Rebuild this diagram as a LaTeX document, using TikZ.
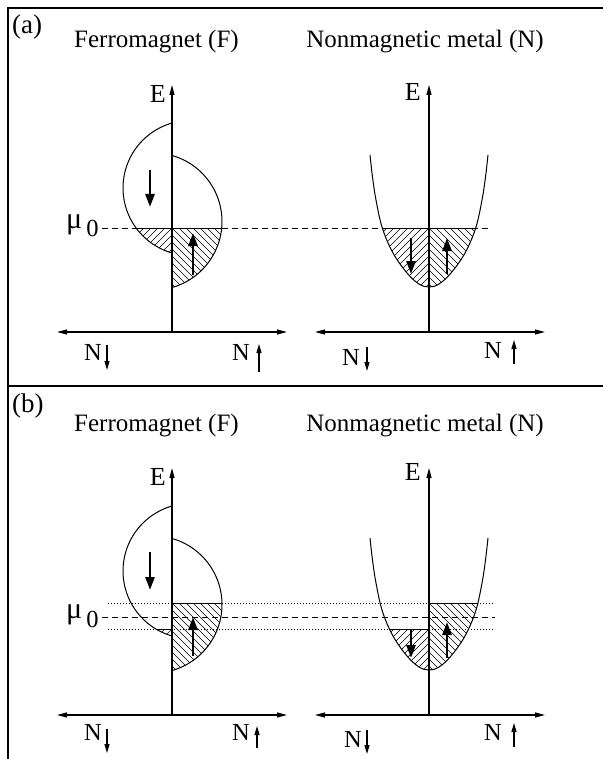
\documentclass[tikz,border=0pt]{standalone}
\usepackage{fontspec}
\setmainfont{Liberation Serif}
\usetikzlibrary{arrows.meta}
\begin{document}
\begin{tikzpicture}[x=1pt,y=-1pt,
  frame/.style={line width=1.4pt},
  axis/.style={line width=1.2pt},
  axisarrow/.style={axis,-{Triangle[length=10pt,width=5pt]}},
  axisboth/.style={axis,{Triangle[length=10pt,width=5pt]}-{Triangle[length=10pt,width=5pt]}},
  band/.style={line width=1pt},
  hatchline/.style={line width=0.6pt},
  fermi/.style={line width=1pt,dash pattern=on 6pt off 4pt},
  level/.style={line width=0.9pt,dash pattern=on 1pt off 2pt},
  spinarrow/.style={line width=2.6pt,-{Triangle[length=13pt,width=9pt]}},
  labelarrow/.style={line width=1.2pt,-{Triangle[length=9pt,width=5pt]}},
  title/.style={font=\fontsize{25}{30}\selectfont,inner sep=0pt},
  panel/.style={font=\fontsize{27}{32}\selectfont,inner sep=0pt},
  lab/.style={font=\fontsize{24.5}{28}\selectfont,inner sep=0pt},
  elab/.style={font=\fontsize{26}{30}\selectfont,inner sep=0pt},
]
\useasboundingbox (0,0) rectangle (603,759);
\def\parab{(370,155) (372.5,177) (376,200) (382.3,228) (393,253) (407,273) (419,284) (429,287) (439,284) (451,273) (465,253) (475.7,228) (482,200) (485.5,177) (488,155)}
\newcommand{\muzero}{{\fontsize{30}{32}\selectfont μ}\hspace{4pt}\raisebox{-8.5pt}{0}}
% frame
\coordinate (fTL) at (8,8); \coordinate (fTR) at (603,8); \coordinate (fBL) at (8,759);
\coordinate (dL) at (8,386); \coordinate (dR) at (603,386);
\draw[frame] (fTR) -- (fTL) -- (fBL);
\draw[frame] (dL) -- (dR);

% ================= panel (a) =================
\node[panel,anchor=base west] (la) at (12,34) {(a)};
\node[title,anchor=base] (tFa) at (156.5,47.5) {Ferromagnet (F)};
\node[title,anchor=base] (tNa) at (425,47.5) {Nonmagnetic metal (N)};
\node[elab,anchor=base east] (EFa) at (166,103) {E};
\node[elab,anchor=base east] (ENa) at (421,101) {E};
\node[lab,anchor=base west] (mua) at (66,228.5) {\muzero};

% Fermi level
\coordinate (muLa) at (102,228); \coordinate (muRa) at (492,228);
\draw[fermi] (muLa) -- (muRa);

% F hatching
\begin{scope}
  \clip (100,228) rectangle (172,300);
  \clip (190.6,188) circle [radius=67.6];
  \foreach \k in {-22,...,22} \draw[hatchline] ({72+7*\k},328) -- ({272+7*\k},128);
\end{scope}
\begin{scope}
  \clip (172,228) rectangle (250,300);
  \clip (153.4,221.5) circle [radius=68.6];
  \foreach \k in {-22,...,22} \draw[hatchline] ({72+7*\k},128) -- ({272+7*\k},328);
\end{scope}
\begin{scope}\clip (190.6,188) circle [radius=67.6]; \draw[band] (100,228) -- (172,228);\end{scope}
\begin{scope}\clip (153.4,221.5) circle [radius=68.6]; \draw[band] (172,228) -- (260,228);\end{scope}
\draw[band] plot[domain=105.97:254.03,samples=60,variable=\t] ({190.6+67.6*cos(\t)},{188+67.6*sin(\t)});
\draw[band] plot[domain=-74.3:74.3,samples=60,variable=\t] ({153.4+68.6*cos(\t)},{221.5+68.6*sin(\t)});

% N hatching
\begin{scope}
  \clip (330,228) rectangle (429,300);
  \clip plot[smooth,tension=0.6] coordinates {\parab} -- cycle;
  \foreach \k in {-22,...,22} \draw[hatchline] ({329+7*\k},328) -- ({529+7*\k},128);
\end{scope}
\begin{scope}
  \clip (429,228) rectangle (530,300);
  \clip plot[smooth,tension=0.6] coordinates {\parab} -- cycle;
  \foreach \k in {-22,...,22} \draw[hatchline] ({329+7*\k},128) -- ({529+7*\k},328);
\end{scope}
\begin{scope}
  \clip plot[smooth,tension=0.6] coordinates {\parab} -- cycle;
  \draw[band] (330,228) -- (530,228);
\end{scope}
\draw[band] plot[smooth,tension=0.6] coordinates {\parab};

% axes
\coordinate (oFa) at (172,332); \coordinate (topFa) at (172,85);
\coordinate (lFa) at (57,332); \coordinate (rFa) at (287,332);
\coordinate (oNa) at (429,332); \coordinate (topNa) at (429,85);
\coordinate (lNa) at (315,332); \coordinate (rNa) at (545,332);
\draw[axisarrow] (oFa) -- (topFa);
\draw[axisboth] (lFa) -- (rFa);
\draw[axisarrow] (oNa) -- (topNa);
\draw[axisboth] (lNa) -- (rNa);

% spin arrows
\coordinate (s1a) at (150,170); \coordinate (s1b) at (150,207);
\coordinate (s2a) at (193,275); \coordinate (s2b) at (193,233);
\coordinate (s3a) at (411,238); \coordinate (s3b) at (411,274);
\coordinate (s4a) at (447,274); \coordinate (s4b) at (447,238);
\draw[spinarrow] (s1a) -- (s1b);
\draw[spinarrow] (s2a) -- (s2b);
\draw[spinarrow] (s3a) -- (s3b);
\draw[spinarrow] (s4a) -- (s4b);

% N labels
\node[lab,anchor=base west] (n1) at (84,360) {N};
\coordinate (n1a) at (107,345); \coordinate (n1b) at (107,370);
\draw[labelarrow] (n1a) -- (n1b);
\node[lab,anchor=base west] (n2) at (232,360) {N};
\coordinate (n2a) at (259,372); \coordinate (n2b) at (259,344);
\draw[labelarrow] (n2a) -- (n2b);
\node[lab,anchor=base west] (n3) at (342,365) {N};
\coordinate (n3a) at (367,347); \coordinate (n3b) at (367,371);
\draw[labelarrow] (n3a) -- (n3b);
\node[lab,anchor=base west] (n4) at (484,358) {N};
\coordinate (n4a) at (514,364); \coordinate (n4b) at (514,340);
\draw[labelarrow] (n4a) -- (n4b);

% ================= panel (b) =================
\node[panel,anchor=base west] (lb) at (12,412.5) {(b)};
\node[title,anchor=base] (tFb) at (156.5,431.5) {Ferromagnet (F)};
\node[title,anchor=base] (tNb) at (425,431.5) {Nonmagnetic metal (N)};
\node[elab,anchor=base east] (EFb) at (166,485) {E};
\node[elab,anchor=base east] (ENb) at (421,480) {E};
\node[lab,anchor=base west] (mub) at (66,618.5) {\muzero};

\begin{scope}[shift={(0,383)}]
  \coordinate (muLb) at (102,234); \coordinate (muRb) at (495,234);
  \coordinate (upL) at (108,220); \coordinate (upR) at (495,220);
  \coordinate (dnL) at (108,246); \coordinate (dnR) at (495,246);
  \draw[level] (upL) -- (upR);
  \draw[level] (dnL) -- (dnR);
  \draw[fermi] (muLb) -- (muRb);

  % F hatching
  \begin{scope}
    \clip (100,246) rectangle (172,300);
    \clip (190.6,188) circle [radius=67.6];
    \foreach \k in {-22,...,22} \draw[hatchline] ({72+7*\k},346) -- ({272+7*\k},146);
  \end{scope}
  \begin{scope}
    \clip (172,220) rectangle (250,300);
    \clip (153.4,221.5) circle [radius=68.6];
    \foreach \k in {-22,...,22} \draw[hatchline] ({72+7*\k},120) -- ({272+7*\k},320);
  \end{scope}
  \begin{scope}\clip (190.6,188) circle [radius=67.6]; \draw[band] (100,246) -- (172,246);\end{scope}
  \begin{scope}\clip (153.4,221.5) circle [radius=68.6]; \draw[band] (172,220) -- (260,220);\end{scope}
  \draw[band] plot[domain=105.97:254.03,samples=60,variable=\t] ({190.6+67.6*cos(\t)},{188+67.6*sin(\t)});
  \draw[band] plot[domain=-74.3:74.3,samples=60,variable=\t] ({153.4+68.6*cos(\t)},{221.5+68.6*sin(\t)});

  % N hatching
  \begin{scope}
    \clip (330,246) rectangle (429,300);
    \clip plot[smooth,tension=0.6] coordinates {\parab} -- cycle;
    \foreach \k in {-22,...,22} \draw[hatchline] ({329+7*\k},346) -- ({529+7*\k},146);
  \end{scope}
  \begin{scope}
    \clip (429,220) rectangle (530,300);
    \clip plot[smooth,tension=0.6] coordinates {\parab} -- cycle;
    \foreach \k in {-22,...,22} \draw[hatchline] ({329+7*\k},120) -- ({529+7*\k},320);
  \end{scope}
  \begin{scope}
    \clip plot[smooth,tension=0.6] coordinates {\parab} -- cycle;
    \draw[band] (330,246) -- (429,246);
    \draw[band] (429,220) -- (530,220);
  \end{scope}
  \draw[band] plot[smooth,tension=0.6] coordinates {\parab};

  % axes
  \coordinate (oFb) at (172,332); \coordinate (topFb) at (172,85);
  \coordinate (lFb) at (57,332); \coordinate (rFb) at (287,332);
  \coordinate (oNb) at (429,332); \coordinate (topNb) at (429,85);
  \coordinate (lNb) at (315,332); \coordinate (rNb) at (545,332);
  \draw[axisarrow] (oFb) -- (topFb);
  \draw[axisboth] (lFb) -- (rFb);
  \draw[axisarrow] (oNb) -- (topNb);
  \draw[axisboth] (lNb) -- (rNb);

  % spin arrows
  \coordinate (t1a) at (150,169); \coordinate (t1b) at (150,207);
  \coordinate (t2a) at (193,273); \coordinate (t2b) at (193,234);
  \coordinate (t3a) at (411,247); \coordinate (t3b) at (411,275);
  \coordinate (t4a) at (447,275); \coordinate (t4b) at (447,239);
  \draw[spinarrow] (t1a) -- (t1b);
  \draw[spinarrow] (t2a) -- (t2b);
  \draw[spinarrow] (t3a) -- (t3b);
  \draw[spinarrow] (t4a) -- (t4b);
\end{scope}

\node[lab,anchor=base west] (m1) at (84,740) {N};
\coordinate (m1a) at (107,729); \coordinate (m1b) at (107,753);
\draw[labelarrow] (m1a) -- (m1b);
\node[lab,anchor=base west] (m2) at (232,740) {N};
\coordinate (m2a) at (257,748); \coordinate (m2b) at (257,726);
\draw[labelarrow] (m2a) -- (m2b);
\node[lab,anchor=base west] (m3) at (344,747) {N};
\coordinate (m3a) at (367,730); \coordinate (m3b) at (367,754);
\draw[labelarrow] (m3a) -- (m3b);
\node[lab,anchor=base west] (m4) at (484,740) {N};
\coordinate (m4a) at (514,747); \coordinate (m4b) at (514,723);
\draw[labelarrow] (m4a) -- (m4b);
\end{tikzpicture}
\end{document}
